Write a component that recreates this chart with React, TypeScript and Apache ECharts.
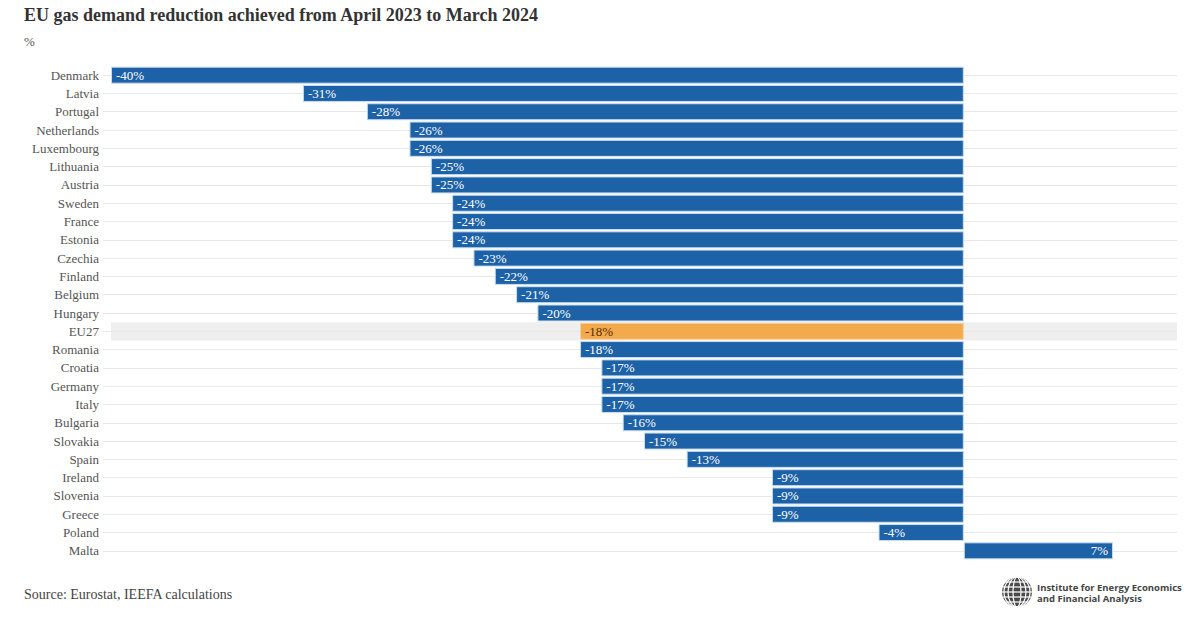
import React, { useEffect, useRef } from "react";
import * as echarts from "echarts";

const countries = [
  "Denmark", "Latvia", "Portugal", "Netherlands", "Luxembourg", "Lithuania", "Austria",
  "Sweden", "France", "Estonia", "Czechia", "Finland", "Belgium", "Hungary", "EU27",
  "Romania", "Croatia", "Germany", "Italy", "Bulgaria", "Slovakia", "Spain", "Ireland",
  "Slovenia", "Greece", "Poland", "Malta",
];
const reduction = [
  -40, -31, -28, -26, -26, -25, -25, -24, -24, -24, -23, -22, -21, -20, -18,
  -18, -17, -17, -17, -16, -15, -13, -9, -9, -9, -4, 7,
];
const highlight = "EU27";

const TITLE = "EU gas demand reduction achieved from April 2023 to March 2024";
const SUBTITLE = "%";
const SOURCE = "Source: Eurostat, IEEFA calculations";
const LOGO_LINE1 = "Institute for Energy Economics";
const LOGO_LINE2 = "and Financial Analysis";

const BLUE = "#1d62a7";
const ORANGE = "#f3aa4d";
const SERIF = "'Liberation Serif', 'Times New Roman', serif";

export default function App() {
  const ref = useRef<HTMLDivElement>(null);
  useEffect(() => {
    if (!ref.current) return;
    const chart = echarts.init(ref.current, undefined, { renderer: "svg" });
    const bandColors = countries.map((c) => (c === highlight ? "#efefef" : "rgba(0,0,0,0)"));

    const data = reduction.map((v, i) => {
      const isHi = countries[i] === highlight;
      return {
        value: v,
        itemStyle: {
          color: isHi ? ORANGE : BLUE,
          borderColor: isHi ? "#f8d29c" : "#c9dcef",
          borderWidth: 1,
        },
        label: {
          show: true,
          position: v < 0 ? "insideLeft" : "insideRight",
          formatter: `${v}%`,
          color: isHi ? "#5a2e00" : "#ffffff",
          fontFamily: SERIF,
          fontSize: 13,
          distance: 5,
        },
      };
    });

    const globeChildren: any[] = [
      { type: "circle", shape: { cx: 0, cy: 0, r: 15 }, style: { fill: "#4a4a4a" } },
    ];
    [4, 9, 13].forEach((rx) => {
      globeChildren.push({
        type: "ellipse",
        shape: { cx: 0, cy: 0, rx, ry: 15 },
        style: { fill: "none", stroke: "#ffffff", lineWidth: 1.2 },
      });
    });
    [-10, -5, 0, 5, 10].forEach((dy) => {
      const hw = Math.sqrt(225 - dy * dy);
      globeChildren.push({
        type: "line",
        shape: { x1: -hw, y1: dy, x2: hw, y2: dy },
        style: { stroke: "#ffffff", lineWidth: 1.2 },
      });
    });

    chart.setOption({
      animation: false,
      backgroundColor: "#ffffff",
      title: [
        {
          text: TITLE,
          left: 24,
          top: 6,
          padding: 0,
          textStyle: { fontFamily: SERIF, fontSize: 18, fontWeight: "bold", color: "#333333" },
        },
        {
          text: SUBTITLE,
          left: 24,
          top: 35,
          padding: 0,
          textStyle: { fontFamily: SERIF, fontSize: 13, fontWeight: "normal", color: "#555555" },
        },
        {
          text: SOURCE,
          left: 24,
          top: 587,
          padding: 0,
          textStyle: { fontFamily: SERIF, fontSize: 14, fontWeight: "normal", color: "#444444" },
        },
      ],
      grid: { left: 111, right: 23, top: 66, bottom: 72, containLabel: false },
      xAxis: {
        type: "value",
        min: -40,
        max: 10,
        show: false,
        splitLine: { show: false },
      },
      yAxis: [
        {
          type: "category",
          data: countries,
          inverse: true,
          position: "left",
          axisLine: { show: false },
          axisTick: { show: false },
          axisLabel: { fontFamily: SERIF, fontSize: 13, color: "#555555", margin: 12 },
          splitArea: { show: true, areaStyle: { color: bandColors } },
        },
        {
          type: "category",
          data: countries,
          inverse: true,
          position: "right",
          axisLine: { show: false },
          axisLabel: { show: false },
          axisTick: {
            show: true,
            alignWithLabel: true,
            inside: true,
            length: 1074,
            lineStyle: { color: "#e8e8e8", width: 1 },
          },
        },
      ],
      series: [
        {
          type: "bar",
          yAxisIndex: 0,
          data,
          barWidth: 17,
          z: 3,
        },
      ],
      graphic: [
        { type: "group", x: 1017, y: 592, children: globeChildren },
        {
          type: "text",
          x: 1037,
          y: 582,
          style: {
            text: LOGO_LINE1,
            font: "bold 9.5px 'Open Sans', sans-serif",
            fill: "#444444",
          },
        },
        {
          type: "text",
          x: 1037,
          y: 593,
          style: {
            text: LOGO_LINE2,
            font: "bold 9.5px 'Open Sans', sans-serif",
            fill: "#444444",
          },
        },
      ],
    });
    return () => chart.dispose();
  }, []);
  return (
    <div
      ref={ref}
      style={{ position: "fixed", left: 0, top: 0, width: 1200, height: 632 }}
    />
  );
}
